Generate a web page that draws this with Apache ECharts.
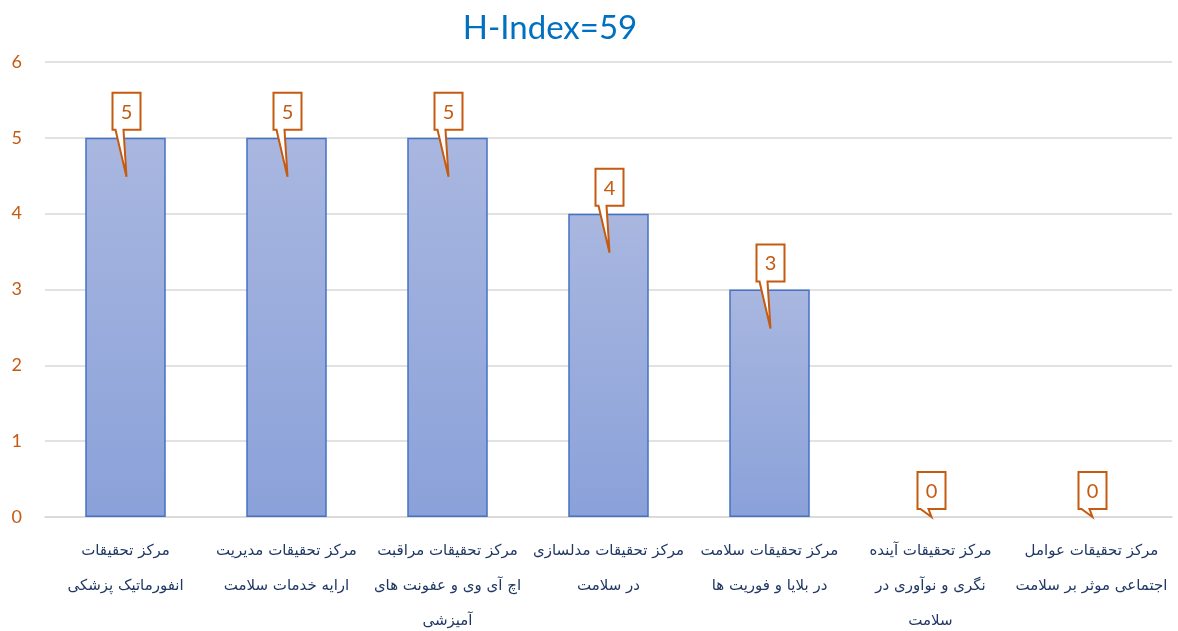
<!DOCTYPE html>
<html>
<head>
<meta charset="utf-8">
<script src="https://cdn.jsdelivr.net/npm/echarts@6/dist/echarts.min.js"></script>
<style>
  html, body { margin: 0; padding: 0; background: #fff; }
  #main { width: 1178px; height: 631px; }
</style>
</head>
<body>
<div id="main"></div>
<script>
// categories (line breaks as in the original labels)
var centers = [
  'مرکز تحقیقات\nانفورماتیک پزشکی',
  'مرکز تحقیقات مدیریت\nارایه خدمات سلامت',
  'مرکز تحقیقات مراقبت\nاچ آی وی و عفونت های\nآمیزشی',
  'مرکز تحقیقات مدلسازی\nدر سلامت',
  'مرکز تحقیقات سلامت\nدر بلایا و فوریت ها',
  'مرکز تحقیقات آینده\nنگری و نوآوری در\nسلامت',
  'مرکز تحقیقات عوامل\nاجتماعی موثر بر سلامت'
];
var hIndex = [5, 5, 5, 4, 3, 0, 0];
var yTicks = [0, 1, 2, 3, 4, 5, 6];

var orange = '#c55a11';

var chartDom = document.getElementById('main');
var myChart = echarts.init(chartDom);

// callout box with a tail pointing into the bar
function renderCallout(params, api) {
  var idx = api.value(0);
  var v = api.value(1);
  var top = api.coord([idx, v]);
  var base = api.coord([idx, 0]);
  var cx = Math.round(top[0]) + 0.5;
  var y = top[1];
  var tip = Math.min(39, base[1] - y);
  var bt = y - 8, tp = y - 45;
  var l = cx - 14, r = cx + 14;
  return {
    type: 'group',
    children: [
      {
        type: 'polygon',
        shape: {
          points: [[l, tp], [r, tp], [r, bt], [cx - 3, bt], [cx, y + tip], [cx - 11, bt], [l, bt]]
        },
        style: { fill: '#fff', stroke: orange, lineWidth: 2 }
      },
      {
        type: 'text',
        x: cx,
        y: (tp + bt) / 2 + 1,
        style: {
          text: String(v),
          fill: orange,
          font: '20px Lato, "Open Sans", sans-serif',
          align: 'center',
          verticalAlign: 'middle'
        }
      }
    ]
  };
}

var option = {
  animation: false,
  title: {
    text: 'H-Index=59',
    left: 545,
    top: 7,
    textAlign: 'center',
    textStyle: {
      color: '#0070c0',
      fontSize: 33,
      fontWeight: 'normal',
      fontFamily: 'Lato, "Open Sans", sans-serif'
    }
  },
  grid: { left: 45, right: 6, top: 62, bottom: 114, outerBoundsMode: 'none', containLabel: false },
  xAxis: {
    type: 'category',
    data: centers,
    axisLine: { lineStyle: { color: '#d9d9d9', width: 1.5 } },
    axisTick: { show: false },
    axisLabel: {
      interval: 0,
      margin: 17,
      color: '#203864',
      fontSize: 15,
      lineHeight: 35,
      fontFamily: '"DejaVu Sans", serif'
    }
  },
  yAxis: {
    type: 'value',
    min: yTicks[0],
    max: yTicks[yTicks.length - 1],
    interval: 1,
    axisLine: { show: false },
    axisTick: { show: false },
    axisLabel: {
      color: orange,
      fontSize: 18,
      margin: 23,
      fontFamily: 'Lato, "Open Sans", sans-serif'
    },
    splitLine: { lineStyle: { color: '#d9d9d9', width: 1.5 } }
  },
  series: [
    {
      type: 'bar',
      data: hIndex.map(function (v) {
        return v === 0 ? { value: v, itemStyle: { borderWidth: 0 } } : v;
      }),
      barWidth: '50%',
      itemStyle: {
        color: new echarts.graphic.LinearGradient(0, 0, 0, 1, [
          { offset: 0, color: '#a9b7e0' },
          { offset: 1, color: '#8aa1d9' }
        ]),
        borderColor: '#4472c4',
        borderWidth: 1.5
      }
    },
    {
      type: 'custom',
      renderItem: renderCallout,
      data: hIndex.map(function (v, i) { return [i, v]; }),
      encode: { x: 0, y: 1 },
      clip: false,
      z: 10
    }
  ]
};

option && myChart.setOption(option);
</script>
</body>
</html>
